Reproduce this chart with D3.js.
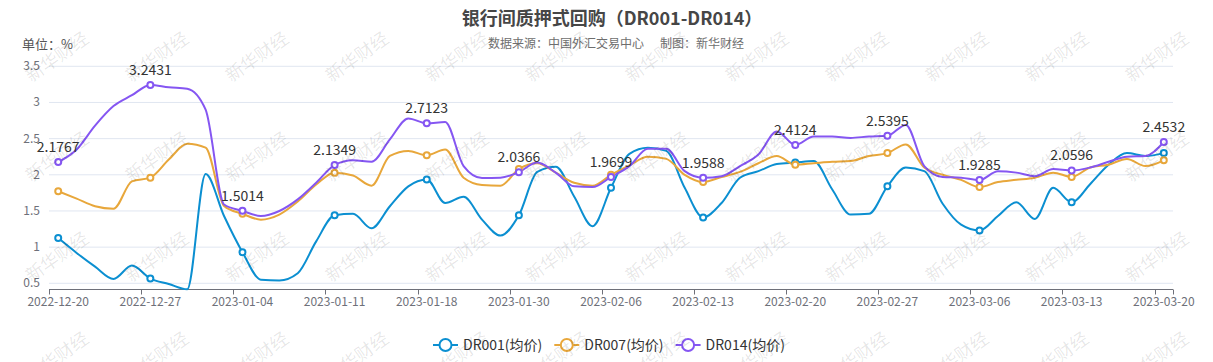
<!DOCTYPE html>
<html>
<head>
<meta charset="utf-8">
<script src="https://cdn.jsdelivr.net/npm/d3@7"></script>
<style>
  body { margin: 0; background: #fff; }
  svg { display: block; font-family: "Noto Sans CJK SC", "Noto Sans", sans-serif; }
</style>
</head>
<body>
<div id="chart"></div>
<script>
// trading days, 2022-12-20 .. 2023-03-20
var dates = ["2022-12-20","2022-12-21","2022-12-22","2022-12-23","2022-12-26","2022-12-27","2022-12-28","2022-12-29","2022-12-30",
  "2023-01-03","2023-01-04","2023-01-05","2023-01-06","2023-01-09","2023-01-10","2023-01-11","2023-01-12","2023-01-13",
  "2023-01-16","2023-01-17","2023-01-18","2023-01-19","2023-01-20","2023-01-28","2023-01-29","2023-01-30","2023-01-31",
  "2023-02-01","2023-02-02","2023-02-03","2023-02-06","2023-02-07","2023-02-08","2023-02-09","2023-02-10","2023-02-13",
  "2023-02-14","2023-02-15","2023-02-16","2023-02-17","2023-02-20","2023-02-21","2023-02-22","2023-02-23","2023-02-24",
  "2023-02-27","2023-02-28","2023-03-01","2023-03-02","2023-03-03","2023-03-06","2023-03-07","2023-03-08","2023-03-09",
  "2023-03-10","2023-03-13","2023-03-14","2023-03-15","2023-03-16","2023-03-17","2023-03-20"];

var dr001 = [1.125,0.92,0.73,0.56,0.745,0.565,0.49,0.417,2.01,1.43,0.93,0.55,0.54,0.64,1.08,1.44,1.46,1.26,
  1.565,1.84,1.935,1.61,1.695,1.38,1.16,1.44,2.04,2.11,1.70,1.29,1.82,2.29,2.375,2.33,1.82,1.41,
  1.61,1.96,2.05,2.15,2.17,2.19,1.80,1.45,1.46,1.84,2.10,2.05,1.60,1.31,1.23,1.43,1.62,1.39,
  1.82,1.62,1.87,2.14,2.30,2.26,2.30];

var dr007 = [1.773,1.67,1.565,1.53,1.91,1.96,2.21,2.43,2.375,1.57,1.46,1.38,1.45,1.63,1.865,2.03,1.99,1.85,
  2.26,2.33,2.27,2.35,1.96,1.86,1.85,2.08,2.16,2.03,1.89,1.85,2.00,2.13,2.25,2.22,2.00,1.90,
  1.97,2.04,2.16,2.26,2.14,2.16,2.18,2.19,2.26,2.30,2.42,2.10,2.00,1.93,1.83,1.90,1.93,1.96,
  2.03,1.97,2.10,2.14,2.22,2.12,2.20];

var dr014 = [2.1767,2.35,2.68,2.95,3.10,3.2431,3.21,3.19,2.9,1.59,1.5014,1.43,1.50,1.66,1.89,2.1349,2.20,2.18,
  2.49,2.78,2.7123,2.73,2.12,1.955,1.96,2.0366,2.17,2.03,1.84,1.83,1.9699,2.12,2.36,2.36,2.05,1.9588,
  1.98,2.12,2.28,2.6,2.4124,2.53,2.53,2.51,2.53,2.5395,2.69,2.12,1.97,1.96,1.9285,2.05,2.03,1.98,
  2.08,2.0596,2.10,2.18,2.25,2.26,2.4532];

var seriesNames = ["DR001(均价)", "DR007(均价)", "DR014(均价)"];
var yTicks = [0.5, 1, 1.5, 2, 2.5, 3, 3.5];

var width = 1213, height = 362;
var colors = ["#0b8fd1", "#e8a73b", "#8556f2"];
var series = [dr001, dr007, dr014];
var step = 5; // label / marker interval

var svg = d3.select("#chart").append("svg")
    .attr("width", width)
    .attr("height", height);

// Title
svg.append("text")
    .attr("x", 612).attr("y", 25)
    .attr("text-anchor", "middle")
    .attr("font-size", "18px").attr("font-weight", "bold")
    .attr("fill", "#464646")
    .text("银行间质押式回购（DR001-DR014）");

svg.append("text")
    .attr("x", 616).attr("y", 48)
    .attr("text-anchor", "middle")
    .attr("font-size", "12px")
    .attr("fill", "#6e6e6e")
    .attr("xml:space", "preserve")
    .style("white-space", "pre")
    .text("数据来源：中国外汇交易中心      制图：新华财经");

svg.append("text")
    .attr("x", 22).attr("y", 49)
    .attr("font-size", "13px")
    .attr("fill", "#555")
    .text("单位：%");

// Scales
var x = d3.scaleBand()
    .domain(dates)
    .range([49, 1173])
    .padding(0);

var yMin = d3.min(series, function (s) { return d3.min(s); });
var y = d3.scaleLinear()
    .domain([yMin, 3.5])
    .range([289.3, 66.3]);

function px(i) { return x(dates[i]) + x.bandwidth() / 2; }

// Grid
svg.append("g")
    .selectAll("line")
    .data(yTicks)
    .enter()
    .append("line")
    .attr("x1", 49).attr("x2", 1173)
    .attr("y1", function (d) { return y(d); })
    .attr("y2", function (d) { return y(d); })
    .attr("stroke", "#e0e6f1");

// Y labels
svg.append("g")
    .selectAll("text")
    .data(yTicks)
    .enter()
    .append("text")
    .attr("x", 40)
    .attr("y", function (d) { return y(d) + 4; })
    .attr("text-anchor", "end")
    .attr("font-size", "12px")
    .attr("fill", "#6e7079")
    .text(function (d) { return d; });

// X axis
var labelIdx = d3.range(0, dates.length, step);
var xAxisG = svg.append("g");
xAxisG.append("line")
    .attr("x1", 49).attr("x2", 1173)
    .attr("y1", 289.5).attr("y2", 289.5)
    .attr("stroke", "#6e7079");

var tickXs = labelIdx.map(function (i) { return x(dates[i]); }).concat([1173]);
xAxisG.selectAll(".tick")
    .data(tickXs)
    .enter()
    .append("line")
    .attr("x1", function (d) { return Math.round(d) + 0.5; })
    .attr("x2", function (d) { return Math.round(d) + 0.5; })
    .attr("y1", 289.5).attr("y2", 294.5)
    .attr("stroke", "#6e7079");

xAxisG.selectAll("text")
    .data(labelIdx)
    .enter()
    .append("text")
    .attr("x", function (i) { return px(i); })
    .attr("y", 306)
    .attr("text-anchor", "middle")
    .attr("font-size", "12px")
    .attr("fill", "#6e7079")
    .text(function (i) { return dates[i]; });

// Lines
var line = d3.line()
    .x(function (d, i) { return px(i); })
    .y(function (d) { return y(d); })
    .curve(d3.curveMonotoneX);

series.forEach(function (s, k) {
    svg.append("path")
        .datum(s)
        .attr("d", line)
        .attr("fill", "none")
        .attr("stroke", colors[k])
        .attr("stroke-width", 2);
});

// Markers
series.forEach(function (s, k) {
    svg.append("g")
        .selectAll("circle")
        .data(labelIdx)
        .enter()
        .append("circle")
        .attr("cx", function (i) { return px(i); })
        .attr("cy", function (i) { return y(s[i]); })
        .attr("r", 3)
        .attr("fill", "#fff")
        .attr("stroke", colors[k])
        .attr("stroke-width", 2);
});

// Value labels for DR014
svg.append("g")
    .selectAll("text")
    .data(labelIdx)
    .enter()
    .append("text")
    .attr("x", function (i) { return px(i); })
    .attr("y", function (i) { return y(dr014[i]) - 10; })
    .attr("text-anchor", "middle")
    .attr("font-size", "14px")
    .attr("fill", "#333")
    .text(function (i) { return dr014[i]; });

// Legend
var legend = svg.append("g");
var lx = 433;
seriesNames.forEach(function (name, k) {
    var g = legend.append("g").attr("transform", "translate(" + lx + ",345)");
    g.append("line")
        .attr("x1", 0).attr("x2", 25)
        .attr("y1", 0).attr("y2", 0)
        .attr("stroke", colors[k]).attr("stroke-width", 2);
    g.append("circle")
        .attr("cx", 12.5).attr("cy", 0).attr("r", 6)
        .attr("fill", "#fff")
        .attr("stroke", colors[k]).attr("stroke-width", 2);
    var t = g.append("text")
        .attr("x", 30).attr("y", 5)
        .attr("font-size", "14px")
        .attr("fill", "#333")
        .text(name);
    lx += 30 + t.node().getComputedTextLength() + 12;
});

// Watermark
var wm = svg.append("g").attr("pointer-events", "none");
for (var r = 0; r < 4; r++) {
    for (var c = 0; c < 12; c++) {
        wm.append("text")
            .attr("transform", "translate(" + (57 + c * 100) + "," + (57 + r * 100) + ") rotate(-35)")
            .attr("text-anchor", "middle")
            .attr("dy", "0.35em")
            .attr("font-size", "18px")
            .attr("fill", "#000")
            .attr("fill-opacity", 0.1)
            .text("新华财经");
    }
}
</script>
</body>
</html>
